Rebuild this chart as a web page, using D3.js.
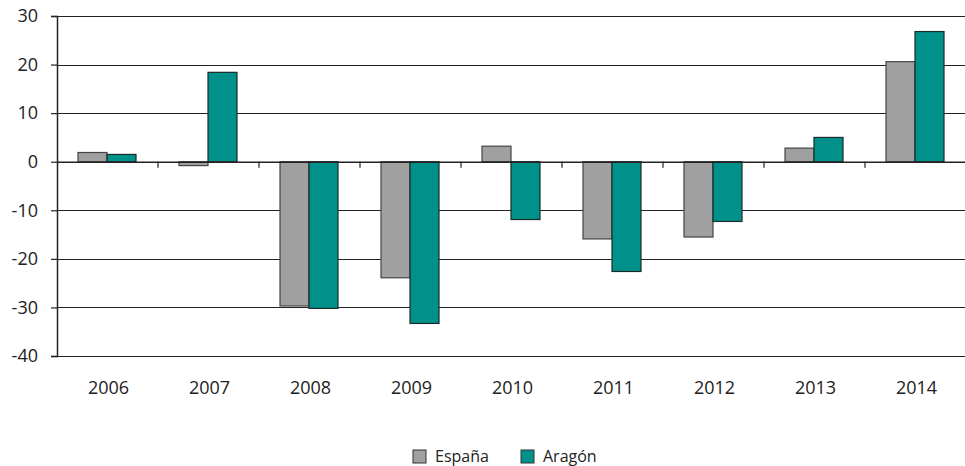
<!DOCTYPE html>
<html>
<head>
<meta charset="utf-8">
<script src="https://cdn.jsdelivr.net/npm/d3@7"></script>
<style>
  body { margin: 0; background: #fff; }
  svg text { font-family: "Open Sans", "Noto Sans", sans-serif; fill: #222; }
</style>
</head>
<body>
<div id="chart"></div>
<script>
// values
var years = ["2006", "2007", "2008", "2009", "2010", "2011", "2012", "2013", "2014"];
var espana = [1.9, -0.8, -29.7, -23.9, 3.2, -15.9, -15.5, 2.8, 20.6];
var aragon = [1.5, 18.4, -30.2, -33.3, -11.9, -22.6, -12.3, 5.0, 26.8];
var yTicks = [30, 20, 10, 0, -10, -20, -30, -40];
var seriesNames = ["España", "Aragón"];
var seriesColors = ["#a0a0a0", "#00928a"];
var seriesStroke = ["#444", "#1a2a28"];

var W = 965, H = 466;
var margin = {top: 16, right: -1, bottom: 110, left: 57};
var width = W - margin.left - margin.right,
    height = H - margin.top - margin.bottom;

var svg = d3.select("#chart").append("svg")
    .attr("width", W)
    .attr("height", H);

var g = svg.append("g")
    .attr("transform", "translate(" + margin.left + "," + margin.top + ")");

var x = d3.scaleBand().domain(years).range([0, width]);
var xs = d3.scaleBand().domain(seriesNames).range([21, x.bandwidth() - 22]);
var y = d3.scaleLinear().domain([-40, 30]).range([height, 0]);

// gridlines
g.selectAll(".grid")
    .data(yTicks)
    .enter().append("line")
    .attr("class", "grid")
    .attr("x1", 0).attr("x2", width)
    .attr("y1", function(d) { return Math.round(y(d)) + 0.5; })
    .attr("y2", function(d) { return Math.round(y(d)) + 0.5; })
    .attr("stroke", "#222")
    .attr("stroke-width", 1.2);

// y axis, plain hyphen for negatives like the original
var yAxis = g.append("g")
    .call(d3.axisLeft(y).tickValues(yTicks).tickSize(6).tickPadding(13)
      .tickFormat(function(d) { return String(d); }));
yAxis.select(".domain").attr("stroke", "#222").attr("stroke-width", 1.5);
yAxis.selectAll(".tick line").attr("stroke", "#222").attr("stroke-width", 1.2);
yAxis.selectAll(".tick text").style("font-size", "18px").attr("fill", "#222");

// bars
var rows = years.map(function(yr, i) {
  return {year: yr, vals: [espana[i], aragon[i]]};
});

var groups = g.selectAll(".yr")
    .data(rows)
    .enter().append("g")
    .attr("class", "yr")
    .attr("transform", function(d) { return "translate(" + x(d.year) + ",0)"; });

groups.selectAll("rect")
    .data(function(d) { return d.vals.map(function(v, k) { return {k: k, v: v}; }); })
    .enter().append("rect")
    .attr("x", function(d) { return xs(seriesNames[d.k]); })
    .attr("width", xs.bandwidth())
    .attr("y", function(d) { return y(Math.max(0, d.v)); })
    .attr("height", function(d) { return Math.abs(y(d.v) - y(0)); })
    .attr("fill", function(d) { return seriesColors[d.k]; })
    .attr("stroke", function(d) { return seriesStroke[d.k]; })
    .attr("stroke-width", 1.2);

// zero axis with category ticks
var xAxis = g.append("g")
    .attr("transform", "translate(0," + y(0) + ")")
    .call(d3.axisBottom(x).tickSize(0).tickFormat(""));
xAxis.select(".domain").attr("stroke", "#222").attr("stroke-width", 1.5);

g.selectAll(".cattick")
    .data(years.slice(1))
    .enter().append("line")
    .attr("class", "cattick")
    .attr("x1", function(d) { return x(d); })
    .attr("x2", function(d) { return x(d); })
    .attr("y1", y(0)).attr("y2", y(0) + 6)
    .attr("stroke", "#222").attr("stroke-width", 1.2);

// category labels at the bottom
g.selectAll(".catlabel")
    .data(years)
    .enter().append("text")
    .attr("class", "catlabel")
    .attr("x", function(d) { return x(d) + x.bandwidth() / 2 + 1; })
    .attr("y", height + 38)
    .attr("text-anchor", "middle")
    .style("font-size", "18px")
    .text(function(d) { return d; });

// legend
var legend = svg.append("g").attr("transform", "translate(413,450)");
var legX = [0, 108];
seriesNames.forEach(function(name, k) {
  legend.append("rect")
    .attr("x", legX[k]).attr("y", 0)
    .attr("width", 13).attr("height", 13)
    .attr("fill", seriesColors[k])
    .attr("stroke", "#333").attr("stroke-width", 1);
  legend.append("text")
    .attr("x", legX[k] + 22).attr("y", 12)
    .style("font-size", "16px")
    .text(name);
});
</script>
</body>
</html>
